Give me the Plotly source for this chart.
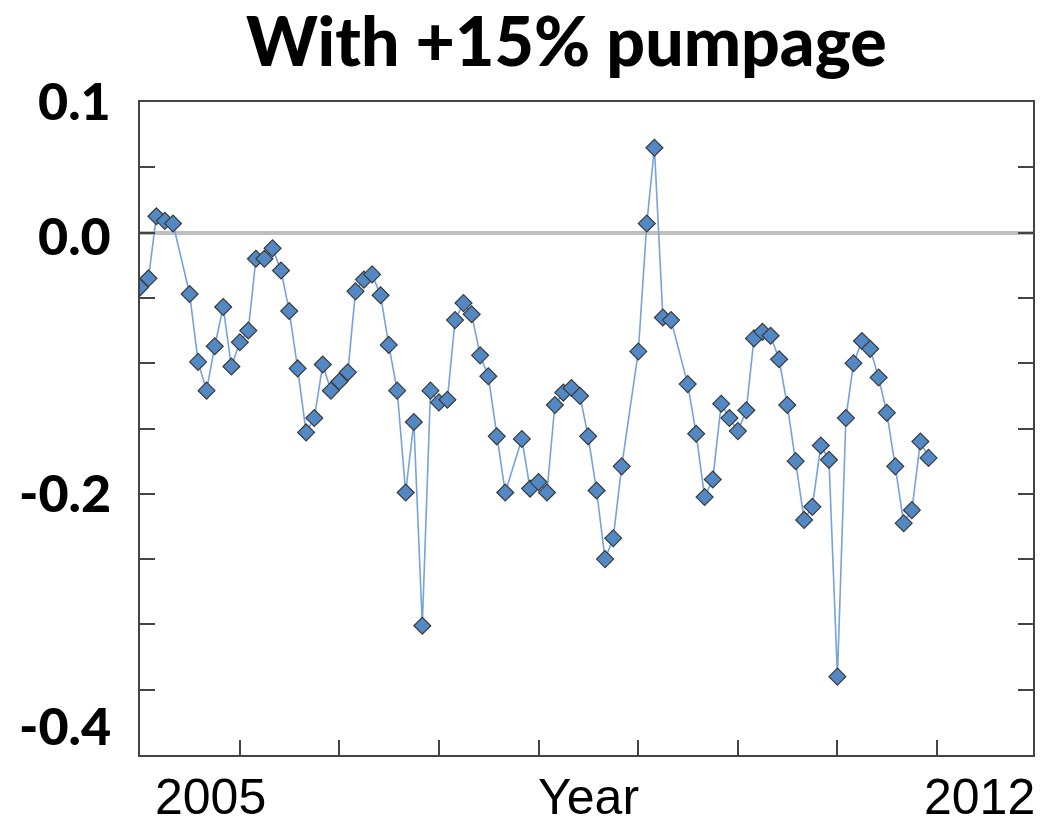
import plotly.graph_objects as go

# Monthly head change (model run with +15% pumpage)
months = [
    "2004-01", "2004-02", "2004-03", "2004-04", "2004-05",
    "2004-07", "2004-08", "2004-09", "2004-10", "2004-11", "2004-12",
    "2005-01", "2005-02", "2005-03", "2005-04", "2005-05", "2005-06",
    "2005-07", "2005-08", "2005-09", "2005-10", "2005-11", "2005-12",
    "2006-01", "2006-02", "2006-03", "2006-04", "2006-05", "2006-06",
    "2006-07", "2006-08", "2006-09", "2006-10", "2006-11", "2006-12",
    "2007-01", "2007-02", "2007-03", "2007-04", "2007-05", "2007-06",
    "2007-07", "2007-08", "2007-09", "2007-11", "2007-12",
    "2008-01", "2008-02", "2008-03", "2008-04", "2008-05", "2008-06",
    "2008-07", "2008-08", "2008-09", "2008-10", "2008-11",
    "2009-01", "2009-02", "2009-03", "2009-04", "2009-05",
    "2009-07", "2009-08", "2009-09", "2009-10", "2009-11", "2009-12",
    "2010-01", "2010-02", "2010-03", "2010-04", "2010-05", "2010-06",
    "2010-07", "2010-08", "2010-09", "2010-10", "2010-11", "2010-12",
    "2011-01", "2011-02", "2011-03", "2011-04", "2011-05", "2011-06",
    "2011-07", "2011-08", "2011-09", "2011-10", "2011-11", "2011-12",
]
values = [
    -0.042, -0.035, 0.0125, 0.009, 0.007,
    -0.047, -0.099, -0.121, -0.087, -0.057, -0.1025,
    -0.084, -0.075, -0.020, -0.020, -0.012, -0.029,
    -0.060, -0.104, -0.153, -0.142, -0.101, -0.121,
    -0.114, -0.107, -0.045, -0.036, -0.032, -0.048,
    -0.086, -0.121, -0.199, -0.145, -0.301, -0.121,
    -0.130, -0.128, -0.067, -0.054, -0.0625, -0.094,
    -0.110, -0.156, -0.199, -0.158, -0.196,
    -0.191, -0.199, -0.132, -0.1225, -0.119, -0.125,
    -0.156, -0.1975, -0.250, -0.234, -0.179,
    -0.091, 0.007, 0.065, -0.065, -0.067,
    -0.116, -0.154, -0.2025, -0.189, -0.131, -0.142,
    -0.152, -0.136, -0.081, -0.076, -0.079, -0.097,
    -0.132, -0.175, -0.220, -0.210, -0.163, -0.174,
    -0.340, -0.142, -0.100, -0.083, -0.089, -0.111,
    -0.138, -0.179, -0.2225, -0.2125, -0.160, -0.1725,
]

year_ticks = ["2005-01-01", "2006-01-01", "2007-01-01", "2008-01-01",
              "2009-01-01", "2010-01-01", "2011-01-01", "2012-01-01"]
y_tick_vals = [0.05, 0.0, -0.05, -0.10, -0.15, -0.20, -0.25, -0.30, -0.35]
y_labels = [(0.1, "0.1", 2), (0.0, "0.0", -2), (-0.2, "-0.2", 2), (-0.4, "-0.4", 30)]
x_labels = [("2005", 211), ("Year", 590), ("2012", 981)]

BOLD = "Lato, 'Open Sans', sans-serif"
PLAIN = "'Liberation Sans', Arial, sans-serif"

fig = go.Figure()
fig.add_trace(go.Scatter(
    x=months, y=values, mode="lines+markers",
    line=dict(color="#76a3da", width=1.6),
    marker=dict(symbol="diamond", size=13, color="#5289c4",
                line=dict(color="#3a3a3a", width=1.2)),
    showlegend=False, hoverinfo="x+y",
))

L, R, T, B = 140, 8, 102, 69
W, H = 1043, 824
pw = W - L - R

annotations = []
for val, txt, shift in y_labels:
    annotations.append(dict(
        x=(113 - L) / pw, xref="paper", xanchor="right",
        y=val, yref="y", yanchor="middle", yshift=shift,
        text=txt, showarrow=False,
        font=dict(family=BOLD, size=52, color="#000000", weight=900),
    ))
for txt, px in x_labels:
    annotations.append(dict(
        x=(px - L) / pw, xref="paper", xanchor="center",
        y=-(797 - (H - B)) / (H - T - B), yref="paper", yanchor="middle",
        text=txt, showarrow=False,
        font=dict(family=PLAIN, size=50, color="#000000"),
    ))
annotations.append(dict(
    x=(567 - L) / pw, xref="paper", xanchor="center",
    y=1 + (T - 40) / (H - T - B), yref="paper", yanchor="middle",
    text="With +15% pumpage", showarrow=False,
    font=dict(family=BOLD, size=68, color="#000000", weight=900),
))

fig.update_layout(
    width=W, height=H,
    margin=dict(l=L, r=R, t=T, b=B, pad=0),
    paper_bgcolor="white", plot_bgcolor="white",
    annotations=annotations,
    xaxis=dict(
        type="date", range=["2004-01-01", "2012-12-18"],
        tickvals=year_ticks, showticklabels=False,
        ticks="inside", ticklen=15, tickwidth=1.5, tickcolor="#444444",
        showline=True, linecolor="#444444", linewidth=2, mirror=True,
        showgrid=False, zeroline=False,
    ),
    yaxis=dict(
        range=[-0.4, 0.1], tickvals=y_tick_vals, showticklabels=False,
        ticks="inside", ticklen=15, tickwidth=1.5, tickcolor="#444444",
        showline=True, linecolor="#444444", linewidth=2, mirror="ticks",
        showgrid=False,
        zeroline=True, zerolinecolor="#bfbfbf", zerolinewidth=4,
    ),
)

fig.write_html("out.html")
